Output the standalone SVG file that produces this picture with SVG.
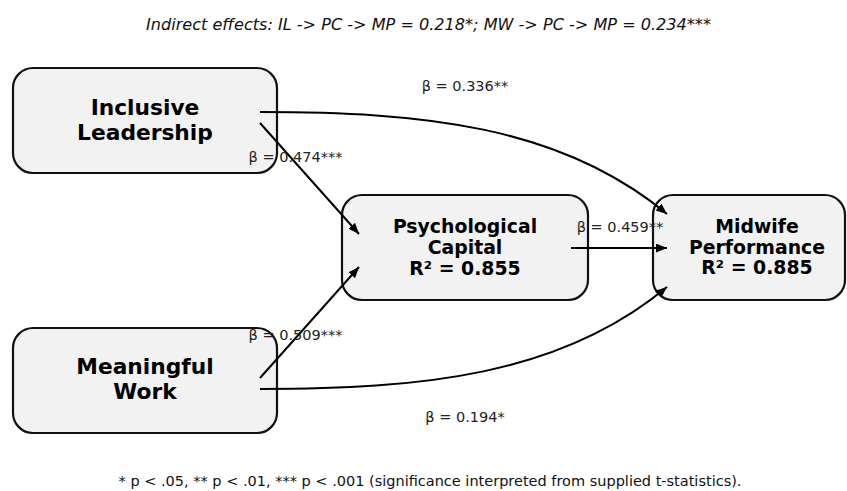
<svg xmlns="http://www.w3.org/2000/svg" width="847" height="491" viewBox="0 0 847 491">
<style>
.box{fill:#f2f2f2;stroke:#111;stroke-width:2.2}
.big{font-family:"DejaVu Sans","Liberation Sans",sans-serif;font-weight:bold;font-size:21.75px;fill:#000;text-anchor:middle}
.mid{font-family:"DejaVu Sans","Liberation Sans",sans-serif;font-weight:bold;font-size:18.85px;fill:#000;text-anchor:middle}
.lbl{font-family:"DejaVu Sans","Liberation Sans",sans-serif;font-size:14.5px;fill:#222;text-anchor:middle}
.title{font-family:"DejaVu Sans","Liberation Sans",sans-serif;font-style:italic;font-size:16.1px;fill:#111;text-anchor:middle}
.foot{font-family:"DejaVu Sans","Liberation Sans",sans-serif;font-size:14.5px;fill:#111;text-anchor:middle}
.edge{fill:none;stroke:#000;stroke-width:2;marker-end:url(#ah)}
</style>
<defs>
<marker id="ah" markerUnits="userSpaceOnUse" markerWidth="12" markerHeight="10" refX="11" refY="4.5" orient="auto">
<path d="M0,0 L11,4.5 L0,9 z" fill="#000"/>
</marker>
</defs>
<rect width="847" height="491" fill="#fff"/>
<text class="title" x="428.5" y="30">Indirect effects: IL -&gt; PC -&gt; MP = 0.218*; MW -&gt; PC -&gt; MP = 0.234***</text>
<g id="node-il">
<rect class="box" x="13" y="68" width="264" height="105" rx="20" ry="20"/>
<text class="big" x="145" y="115">Inclusive</text>
<text class="big" x="145" y="139.5">Leadership</text>
</g>
<g id="node-mw">
<rect class="box" x="13" y="328" width="264" height="105" rx="20" ry="20"/>
<text class="big" x="145" y="374">Meaningful</text>
<text class="big" x="145" y="398.5">Work</text>
</g>
<g id="node-pc">
<rect class="box" x="342" y="195" width="246" height="105" rx="20" ry="20"/>
<text class="mid" x="465" y="232.5">Psychological</text>
<text class="mid" x="465" y="253.5">Capital</text>
<text class="mid" x="465" y="274.5">R² = 0.855</text>
</g>
<g id="node-mp">
<rect class="box" x="653" y="195" width="192" height="105" rx="20" ry="20"/>
<text class="mid" x="757" y="233">Midwife</text>
<text class="mid" x="757" y="253.5">Performance</text>
<text class="mid" x="757" y="274">R² = 0.885</text>
</g>
<g id="connectors">
<path class="edge" d="M260,112 C420,112 560,125 667,214"/>
<path class="edge" d="M260,389 C420,389 560,376 667,287"/>
<path class="edge" d="M260,123 L359,234"/>
<path class="edge" d="M260,378 L359,267"/>
<path class="edge" d="M571,248 L667,248"/>
<text class="lbl" x="465" y="91">β = 0.336**</text>
<text class="lbl" x="295.5" y="162">β = 0.474***</text>
<text class="lbl" x="620" y="232">β = 0.459**</text>
<text class="lbl" x="295.5" y="340">β = 0.509***</text>
<text class="lbl" x="465" y="422">β = 0.194*</text>
</g>
<text class="foot" x="430" y="486">* p &lt; .05, ** p &lt; .01, *** p &lt; .001 (significance interpreted from supplied t-statistics).</text>
</svg>
